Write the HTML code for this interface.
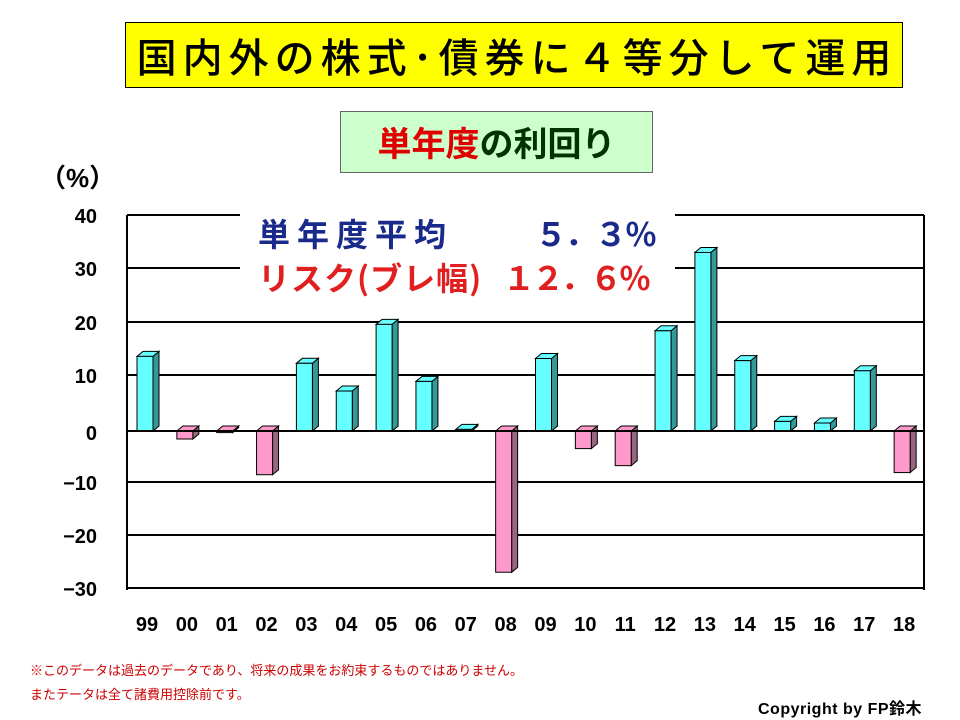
<!DOCTYPE html><html><head><meta charset="utf-8"><style>
body{margin:0;width:960px;height:720px;background:#fff;overflow:hidden;position:relative;font-family:"Liberation Sans","Noto Sans CJK JP",sans-serif}
.t{position:absolute;white-space:nowrap}
</style></head><body>
<div class="t" style="left:125px;top:22px;width:776px;height:64px;background:#ffff00;border:1px solid #000;font-size:40px;line-height:64px;text-align:center;font-family:'Noto Sans CJK JP',sans-serif;font-weight:500;letter-spacing:6px;text-indent:6px">国内外の株式･債券に４等分して運用</div>
<div class="t" style="left:340px;top:111px;width:311px;height:60px;background:#ccffcc;border:1px solid #666;font-size:34px;line-height:60px;text-align:center;font-weight:bold;font-family:'Noto Sans CJK JP',sans-serif"><span style="color:#e00000">単年度</span><span style="color:#003300">の利回り</span></div>
<div class="t" style="left:40px;top:158px;font-size:26px;font-weight:bold">（%）</div>
<svg width="960" height="720" style="position:absolute;left:0;top:0">
<g stroke="#000" stroke-width="2">
<line x1="127" y1="215" x2="924" y2="215"/><line x1="127" y1="268" x2="924" y2="268"/><line x1="127" y1="322" x2="924" y2="322"/><line x1="127" y1="375" x2="924" y2="375"/><line x1="127" y1="482" x2="924" y2="482"/><line x1="127" y1="535" x2="924" y2="535"/><line x1="127" y1="588" x2="924" y2="588"/>
<line x1="127" y1="215" x2="127" y2="590"/><line x1="924" y1="215" x2="924" y2="590"/>
</g>
<rect x="240" y="205" width="435" height="88" fill="#fff"/>
<g id="bars" stroke="#000" stroke-width="1"></g>
<line x1="127" y1="431" x2="924" y2="431" stroke="#000" stroke-width="2"/>
<g font-size="20" font-weight="bold" text-anchor="end" font-family="Liberation Sans,sans-serif">
<text x="97" y="223">40</text><text x="97" y="276">30</text><text x="97" y="330">20</text><text x="97" y="383">10</text><text x="97" y="440">0</text><text x="97" y="490">−10</text><text x="97" y="543">−20</text><text x="97" y="596">−30</text>
</g>
<g id="xl" font-size="20" font-weight="bold" text-anchor="middle" font-family="Liberation Sans,sans-serif"></g>
</svg>
<div class="t" style="left:258px;top:210px;font-size:32px;font-weight:bold;color:#1a2a8a;font-family:'Noto Sans CJK JP',sans-serif;letter-spacing:7px">単年度平均</div>
<div class="t" style="left:535px;top:210px;font-size:32px;font-weight:bold;color:#1a2a8a;font-family:'Noto Sans CJK JP',sans-serif;letter-spacing:-2px">５．３％</div>
<div class="t" style="left:258px;top:254px;font-size:32px;font-weight:bold;color:#e02020;font-family:'Noto Sans CJK JP',sans-serif;letter-spacing:1px">リスク(ブレ幅)</div>
<div class="t" style="left:503px;top:254px;font-size:32px;font-weight:bold;color:#e02020;font-family:'Noto Sans CJK JP',sans-serif;letter-spacing:-3px">１２．６％</div>
<div class="t" style="left:30px;top:660px;font-size:13px;color:#cc0000">※このデータは過去のデータであり、将来の成果をお約束するものではありません。</div>
<div class="t" style="left:30px;top:684px;font-size:13px;color:#cc0000">またテータは全て諸費用控除前です。</div>
<div class="t" style="left:758px;top:695px;font-size:16px;font-weight:bold;letter-spacing:0.5px">Copyright by FP鈴木</div>
<script>
(function(){
var v=[14,-1.5,-0.3,-8.2,12.7,7.5,20,9.3,0.3,-26.5,13.6,-3.3,-6.5,18.8,33.5,13.2,1.8,1.5,11.3,-7.8];
var L=["99","00","01","02","03","04","05","06","07","08","09","10","11","12","13","14","15","16","17","18"];
var s="",t="";
for(var i=0;i<20;i++){var c=147+i*39.85,x=c-10,w=16,z=431,y=z-v[i]*5.33;var tp=Math.min(y,z),h=Math.abs(y-z);
var pos=v[i]>=0,f=pos?"#66ffff":"#ff99cc",d=pos?"#339999":"#996680";
s+='<polygon points="'+(x+w)+','+tp+' '+(x+w+6)+','+(tp-5)+' '+(x+w+6)+','+(tp+h-5)+' '+(x+w)+','+(tp+h)+'" fill="'+d+'"/>';
s+='<polygon points="'+x+','+tp+' '+(x+6)+','+(tp-5)+' '+(x+w+6)+','+(tp-5)+' '+(x+w)+','+tp+'" fill="'+f+'"/>';
s+='<rect x="'+x+'" y="'+tp+'" width="'+w+'" height="'+h+'" fill="'+f+'"/>';
t+='<text x="'+c+'" y="631">'+L[i]+'</text>';}
document.getElementById("bars").innerHTML=s;document.getElementById("xl").innerHTML=t;
})();
</script>
</body></html>
